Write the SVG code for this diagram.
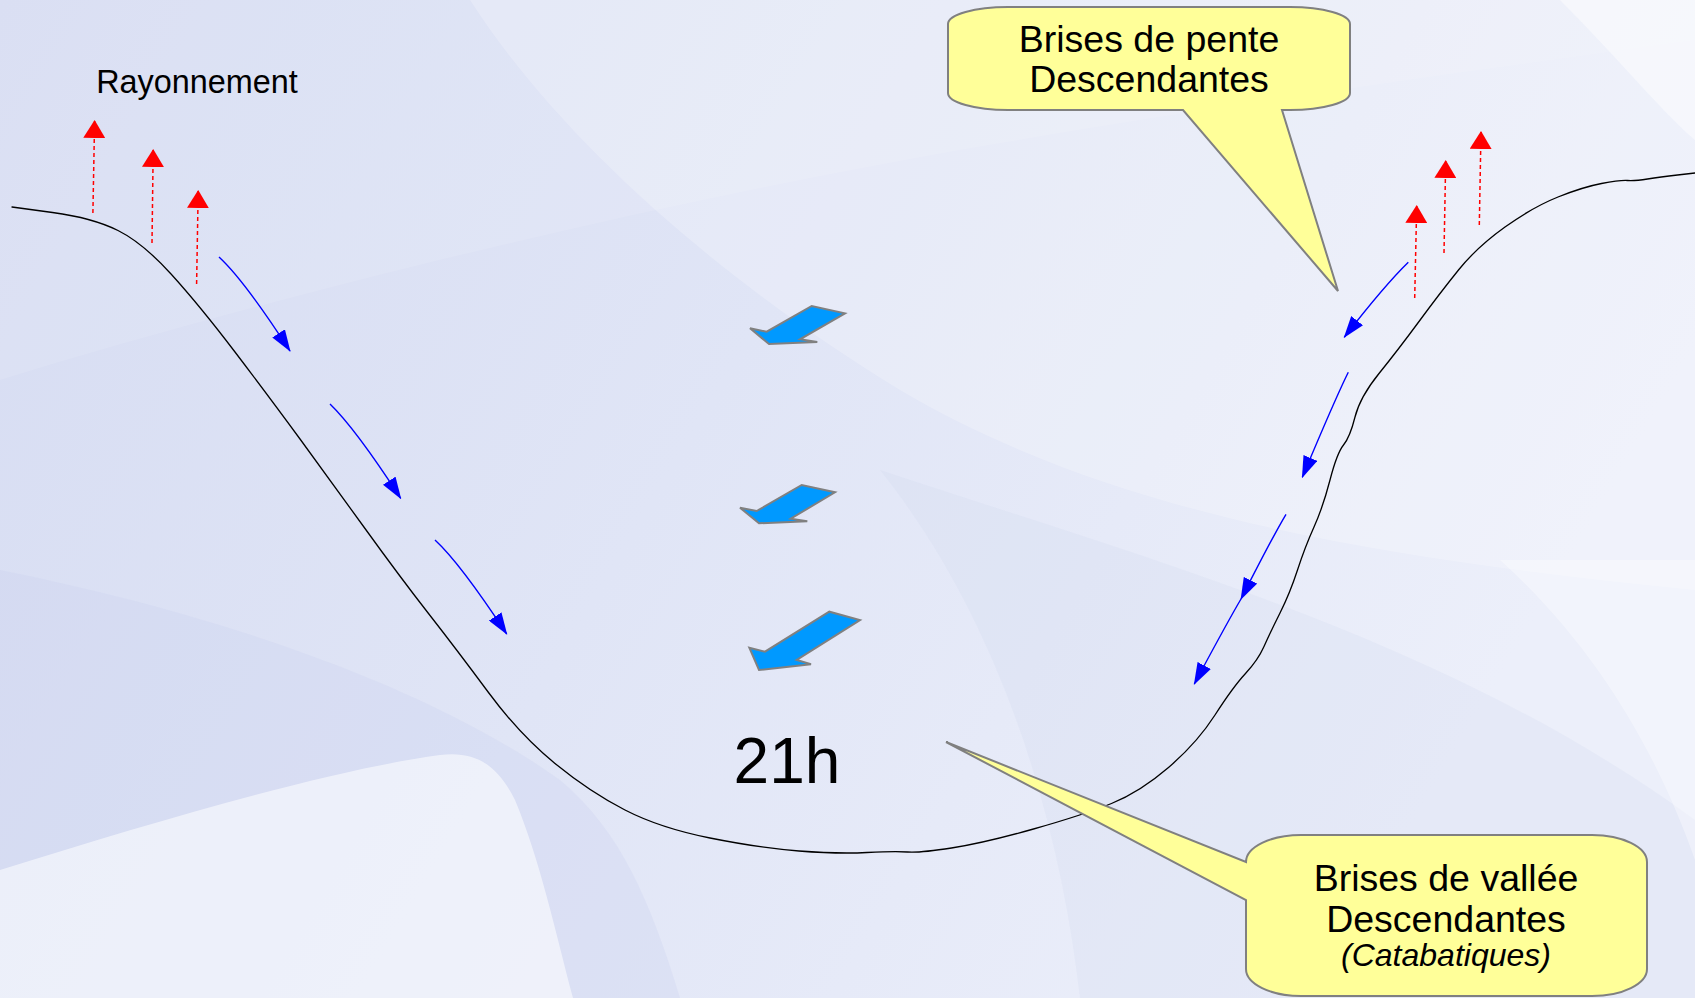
<svg xmlns="http://www.w3.org/2000/svg" width="1695" height="998" viewBox="0 0 1695 998">
  <defs>
    <linearGradient id="bgGrad" x1="0" y1="0" x2="1" y2="0.35">
      <stop offset="0" stop-color="#d6dcf2"/>
      <stop offset="0.5" stop-color="#e0e5f6"/>
      <stop offset="1" stop-color="#eceffa"/>
    </linearGradient>
    <marker id="blueHead" markerUnits="userSpaceOnUse" markerWidth="22" markerHeight="15" viewBox="0 0 22 15" refX="21" refY="7.5" orient="auto">
      <path d="M0,0 L22,7.5 L0,15 z" fill="#0000ff"/>
    </marker>
    <marker id="redHead" markerUnits="userSpaceOnUse" markerWidth="18" markerHeight="22" viewBox="0 0 18 22" refX="17" refY="11" orient="auto">
      <path d="M0,0 L18,11 L0,22 z" fill="#ff0000"/>
    </marker>
    <style>
      .txt { font-family: "Liberation Sans", Arial, sans-serif; fill: #000000; }
      .ridge { fill: none; stroke: #000000; stroke-width: 1.3; stroke-linejoin: round; stroke-linecap: round; }
      .ray { fill: none; stroke: #ff0000; stroke-width: 1.5; stroke-dasharray: 4 3; marker-end: url(#redHead); }
      .breeze { fill: none; stroke: #0000ff; stroke-width: 1.4; marker-end: url(#blueHead); }
      .flow { fill: #0099ff; stroke: #808080; stroke-width: 2; stroke-linejoin: miter; }
      .callout { fill: #ffff99; stroke: #808080; stroke-width: 2; stroke-linejoin: miter; }
    </style>
  </defs>

  <!-- soft wavy backdrop -->
  <g id="backdrop">
    <rect x="0" y="0" width="1695" height="998" fill="url(#bgGrad)"/>
    <path d="M470,0 C560,140 720,280 900,390 C1120,520 1400,560 1695,590 L1695,0 Z" fill="#ffffff" fill-opacity="0.22"/>
    <path d="M0,380 C260,300 620,210 960,150 C1250,100 1480,70 1695,40 L1695,0 L0,0 Z" fill="#ffffff" fill-opacity="0.1"/>
    <path d="M1560,0 C1620,60 1660,110 1695,140 L1695,0 Z" fill="#ffffff" fill-opacity="0.45"/>
    <path d="M0,570 C200,610 420,680 560,780 C620,830 650,900 680,998 L0,998 Z" fill="#c9d0ee" fill-opacity="0.3"/>
    <path d="M0,870 C160,820 330,770 440,755 C480,750 500,770 515,800 C540,860 555,930 573,998 L0,998 Z" fill="#ffffff" fill-opacity="0.55"/>
    <path d="M880,470 C1150,560 1450,640 1695,820 L1695,998 L1080,998 C1060,820 1000,620 880,470 Z" fill="#cdd4ef" fill-opacity="0.22"/>
    <path d="M1500,560 C1600,650 1660,760 1695,860 L1695,560 Z" fill="#ffffff" fill-opacity="0.35"/>
  </g>

  <!-- valley cross-section -->
  <g id="valley">
    <path class="ridge" d="M12,207 L52.5,212.5 Q93,218 118,230.5 Q143,243 171.5,274.5 Q200,306 235,352 Q270,398 300,439 Q330,480 365,528.5 Q400,577 428.5,613.5 Q457,650 488.5,692.5 Q520,735 555,763.5 Q590,792 625,810 Q660,828 710,838 Q760,848 799,851 Q838,854 867,852.5 Q896,851 907.5,852 Q919,853 951.5,848 Q984,843 1033.5,829 Q1083,815 1111.5,803.5 Q1140,792 1168.5,767.5 Q1197,743 1215,715 Q1233,687 1245.5,673.5 Q1258,660 1264,646.5 Q1270,633 1280,613 Q1290,593 1297.5,570 Q1305,547 1314,527 Q1323,507 1330,480 Q1337,453 1343.5,445 Q1350,437 1355,417 Q1360,397 1379,373.5 Q1398,350 1419,321.5 Q1440,293 1458.5,270 Q1477,247 1505,227 Q1533,207 1558,197 Q1583,187 1601.5,183.5 Q1620,180 1627.5,180.5 Q1635,181 1647.5,179 Q1660,177 1677.5,175 L1695,173"/>
  </g>

  <g id="label-rayonnement">
    <text class="txt" x="197" y="93" font-size="32.4" text-anchor="middle">Rayonnement</text>
  </g>

  <g id="label-time">
    <text class="txt" x="787" y="783" font-size="64" text-anchor="middle">21h</text>
  </g>

  <!-- night radiation leaving the ridges -->
  <g id="radiation">
    <path class="ray" d="M92.9,213 L94.6,121"/>
    <path class="ray" d="M152,243 L153.2,150"/>
    <path class="ray" d="M196.6,284 L198.2,191"/>
    <path class="ray" d="M1414.7,298 L1416.7,206"/>
    <path class="ray" d="M1444,253 L1445.7,161"/>
    <path class="ray" d="M1479.3,225 L1481,132"/>
  </g>

  <!-- slope breezes flowing down -->
  <g id="slope-breezes">
    <path class="breeze" d="M219,257 Q244,280 290,351"/>
    <path class="breeze" d="M330,404 Q355,428 400.7,498.3"/>
    <path class="breeze" d="M435,540 Q460,563 506.7,634"/>
    <path class="breeze" d="M1408.3,262.3 Q1384,286 1344.3,337.3"/>
    <path class="breeze" d="M1348.3,372.3 Q1336,397 1302.3,477.3"/>
    <path class="breeze" d="M1286,514.3 Q1273,536 1241,599"/>
    <path class="breeze" d="M1241,599 Q1228,621 1194.3,684"/>
  </g>

  <!-- valley wind arrows -->
  <g id="valley-wind">
    <polygon class="flow" points="750,328.3 769,344 817.3,342 800,339.3 845,313.3 811.7,306 766.7,331.7"/>
    <polygon class="flow" points="740,507.7 759,523.3 807.3,521.3 790.7,518.7 835,492.3 801.7,485 756.7,511"/>
    <polygon class="flow" points="749.3,647.7 759,670 811,664.3 796.7,660 860,620 829.3,611.7 765,651.7"/>
  </g>

  <g id="callout-pente">
    <path class="callout" d="M1008,7 H1290 A60,17 0 0 1 1350,24 V93 A60,17 0 0 1 1290,110 H1282 L1338,291 L1183,110 H1008 A60,17 0 0 1 948,93 V24 A60,17 0 0 1 1008,7 Z"/>
    <text class="txt" x="1149" y="52" font-size="37.5" text-anchor="middle">Brises de pente</text>
    <text class="txt" x="1149" y="92" font-size="37.5" text-anchor="middle">Descendantes</text>
  </g>

  <g id="callout-vallee">
    <path class="callout" d="M1301,835 H1592 A55,27 0 0 1 1647,862 V969 A55,27 0 0 1 1592,996 H1301 A55,27 0 0 1 1246,969 V900 L946,742 L1246,862 A55,27 0 0 1 1301,835 Z"/>
    <text class="txt" x="1446" y="891" font-size="37.5" text-anchor="middle">Brises de vallée</text>
    <text class="txt" x="1446" y="932" font-size="37.5" text-anchor="middle">Descendantes</text>
    <text class="txt" x="1446" y="966" font-size="32" font-style="italic" text-anchor="middle">(Catabatiques)</text>
  </g>
</svg>
